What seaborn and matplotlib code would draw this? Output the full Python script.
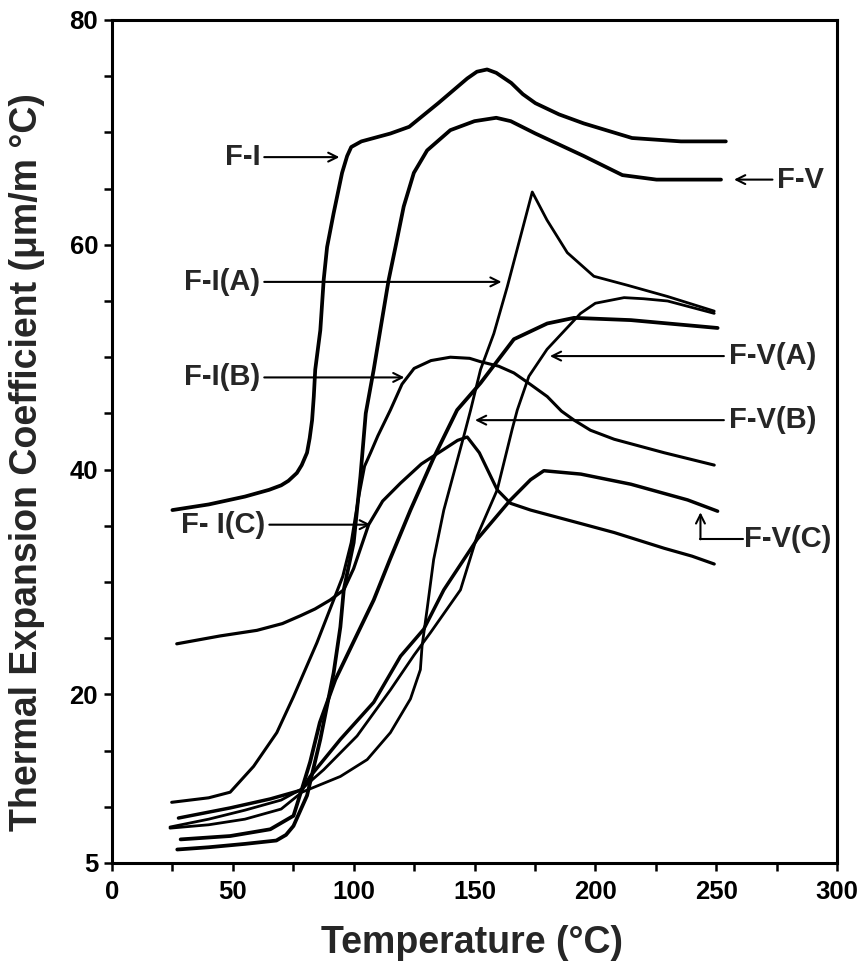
import numpy as np
import pandas as pd
import matplotlib
matplotlib.use("Agg")
import matplotlib.pyplot as plt
import seaborn as sns

# ---------------- data ----------------
FI_T = [25, 40, 55, 65, 70, 73, 76.5, 78.5, 80.7, 81.8, 82.8, 83.5, 84.1, 86.2, 87.6, 89, 91.7,
        95.2, 97.3, 99, 103.2, 115.2, 123, 135, 147, 151, 155.2, 159, 165.2, 170, 175.2, 185,
        195.2, 215.2, 235.4, 254]
FI_A = [36.4, 36.9, 37.6, 38.2, 38.6, 39.0, 39.7, 40.4, 41.5, 42.8, 44.4, 46.5, 48.9, 52.4, 56.9,
        59.8, 62.8, 66.4, 67.9, 68.7, 69.2, 69.9, 70.5, 72.6, 74.8, 75.4, 75.6, 75.3, 74.4, 73.4,
        72.6, 71.6, 70.8, 69.5, 69.2, 69.2]

FV_T = [27, 40, 55, 68, 72, 75.1, 80.7, 86.2, 91.7, 94.5, 95.9, 100, 102.8, 105, 108.3, 111, 114.5,
        117.3, 120.7, 124.9, 130.4, 140, 150, 159, 165, 175.2, 195.2, 211.2, 225.3, 252]
FV_A = [6.2, 6.4, 6.7, 7.0, 7.5, 8.3, 11.0, 16.0, 21.9, 26.0, 29.3, 33.5, 39.4, 45.0, 48.9, 52.4, 56.9,
        59.8, 63.4, 66.4, 68.4, 70.2, 71.0, 71.3, 71.0, 69.9, 67.9, 66.2, 65.8, 65.8]

FIA_T = [24, 40, 55, 70, 78.6, 94.5, 105.6, 115.2, 123.5, 127.6, 128.3, 130.4, 133.1, 137.3, 145.6,
         148.4, 152.5, 158, 163.6, 169, 173.9, 180, 188.4, 199.4, 213.3, 229.9, 249.2]
FIA_A = [8.1, 8.4, 8.9, 9.8, 11.3, 12.7, 14.2, 16.6, 19.6, 22.2, 24.3, 27.6, 32.0, 36.4, 43.0,
         45.3, 48.9, 52.1, 56.3, 60.7, 64.7, 62.2, 59.3, 57.2, 56.4, 55.4, 54.1]

FIB_T = [24.7, 40, 48.9, 58.6, 68.2, 75.1, 84.8, 91.7, 95.5, 99, 102, 104.5, 107, 110, 115.2, 120,
         125, 132, 140, 148, 152.5, 160, 166.3, 173, 180.1, 186, 191.2, 198, 207.8, 228.5, 249.2]
FIB_A = [10.4, 10.8, 11.3, 13.6, 16.6, 19.8, 24.6, 28.4, 30.5, 33.5, 37.5, 40.3, 41.5, 43.0, 45.3, 47.6,
         49.0, 49.7, 50.0, 49.9, 49.6, 49.2, 48.6, 47.6, 46.5, 45.2, 44.4, 43.5, 42.7, 41.5, 40.4]

FIC_T = [26.8, 44.7, 60, 70.5, 78, 84, 90.3, 95.9, 100, 106.2, 112, 119.4, 128, 137.3, 143, 147,
         152, 159.4, 164.9, 173.2, 180.1, 194, 207.8, 228.5, 240, 249.2]
FIC_A = [24.5, 25.2, 25.7, 26.3, 27.0, 27.6, 28.4, 29.3, 31.2, 35.1, 37.2, 38.8, 40.5, 41.8, 42.6, 42.9,
         41.5, 38.2, 37.0, 36.4, 36.0, 35.2, 34.4, 33.0, 32.3, 31.6]

FVA_T = [24, 40, 55, 70, 78.6, 87.6, 101.4, 115.2, 125, 131.8, 144.2, 151.1, 159.4, 165.6, 167.7,
         172.5, 180, 193.9, 200, 211.9, 220, 229.9, 249.2]
FVA_A = [8.2, 8.9, 9.7, 10.6, 11.6, 13.3, 16.3, 20.4, 23.5, 25.5, 29.3, 34.1, 38.2, 43.6, 45.3,
         48.3, 50.7, 53.9, 54.8, 55.3, 55.2, 55.0, 53.9]

FVB_T = [28.4, 48.9, 65.5, 75.1, 78.6, 82, 86, 92.4, 100, 108.3, 115, 123.5, 133, 142.8, 152.5,
         166.3, 180.1, 191.2, 214.7, 250.6]
FVB_A = [7.1, 7.4, 8.0, 9.2, 11.6, 14.0, 17.5, 21.3, 24.7, 28.4, 32.0, 36.4, 41.0, 45.3, 47.7,
         51.6, 53.0, 53.5, 53.3, 52.6]

FVC_T = [27.5, 48.9, 65.5, 78.6, 82, 94.5, 108.3, 119.4, 129, 137.3, 151.1, 164.9, 173.2, 178.7,
         194, 214.7, 238.2, 250.6]
FVC_A = [9.0, 9.9, 10.7, 11.5, 12.7, 16.0, 19.3, 23.4, 25.8, 29.3, 33.8, 37.3, 39.1, 39.9,
         39.6, 38.7, 37.3, 36.3]

SAMPLES = ["F-I", "F-V", "F-I(A)", "F-I(B)", "F-I(C)", "F-V(A)", "F-V(B)", "F-V(C)"]
SERIES = {
    "F-I": (FI_T, FI_A), "F-V": (FV_T, FV_A), "F-I(A)": (FIA_T, FIA_A),
    "F-I(B)": (FIB_T, FIB_A), "F-I(C)": (FIC_T, FIC_A), "F-V(A)": (FVA_T, FVA_A),
    "F-V(B)": (FVB_T, FVB_A), "F-V(C)": (FVC_T, FVC_A),
}

X_TICKS = list(range(0, 301, 25))
X_LABELS = [str(v) if v % 50 == 0 else "" for v in X_TICKS]
Y_TICKS = list(range(5, 81, 5))
Y_LABELS = [str(v) if v in (5, 20, 40, 60, 80) else "" for v in Y_TICKS]

# ---------------- style ----------------
sns.set_theme(style="ticks")
plt.rcParams["font.family"] = ["Liberation Sans", "DejaVu Sans"]
plt.rcParams["font.weight"] = "bold"

W, H = 859, 974
fig = plt.figure(figsize=(W / 100, H / 100), dpi=100)
ax = fig.add_axes([112 / W, 1 - 863 / H, (837 - 112) / W, (863 - 20) / H])

widths = {"F-I": 2.7, "F-V": 2.7, "F-I(A)": 2.0, "F-I(B)": 2.2, "F-I(C)": 2.3,
          "F-V(A)": 2.0, "F-V(B)": 2.7, "F-V(C)": 2.5}

for name in SAMPLES:
    t, a = SERIES[name]
    df = pd.DataFrame({"T": t, "CTE": a})
    sns.lineplot(data=df, x="T", y="CTE", ax=ax, color="black", sort=False,
                 estimator=None, linewidth=widths[name], solid_capstyle="round",
                 solid_joinstyle="round")

ax.set_xlim(0, 300)
ax.set_ylim(5, 80)
ax.set_xticks(X_TICKS)
ax.set_xticklabels(X_LABELS)
ax.set_yticks(Y_TICKS)
ax.set_yticklabels(Y_LABELS)
ax.set_xlabel("")
ax.set_ylabel("")
for s in ax.spines.values():
    s.set_linewidth(2.2)
    s.set_color("black")
ax.tick_params(axis="both", direction="out", length=6, width=1.8, colors="black",
               labelsize=18.5, pad=4)
ax.tick_params(axis="x", pad=6)
for lab in ax.get_xticklabels() + ax.get_yticklabels():
    lab.set_fontweight("bold")

# axis titles
fig.text(472 / W, 1 - 943 / H, "Temperature (\u00b0C)", ha="center", va="center",
         fontsize=27, fontweight="bold")
fig.text(27 / W, 1 - 462 / H, "Thermal Expansion Coefficient (\u03bcm/m \u00b0C)",
         ha="center", va="center", rotation=90, fontsize=27, fontweight="bold")

# curve labels with arrows
arrow_kw = dict(arrowstyle="->", color="black", lw=1.5, mutation_scale=16,
                shrinkA=0, shrinkB=0)
lab_kw = dict(fontsize=21, fontweight="bold", va="center")

left_labels = [("F-I", 63.0, 94.1, 67.8),
               ("F-I(A)", 63.0, 161.2, 56.7),
               ("F-I(B)", 63.0, 121.0, 48.2),
               ("F- I(C)", 65.1, 107.1, 35.1)]
for text, tail, tip, yv in left_labels:
    ax.annotate("", xy=(tip, yv), xytext=(tail, yv), arrowprops=arrow_kw)
    ax.text(tail - 1.5, yv, text, ha="right", **lab_kw)

right_labels = [("F-V", 273.3, 257.4, 65.8),
                ("F-V(A)", 253.2, 181.2, 50.1),
                ("F-V(B)", 253.2, 150.2, 44.4)]
for text, tail, tip, yv in right_labels:
    ax.annotate("", xy=(tip, yv), xytext=(tail, yv), arrowprops=arrow_kw)
    ax.text(tail + 2.0, yv, text, ha="left", **lab_kw)

# F-V(C): elbow arrow
ax.annotate("", xy=(243.5, 36.2), xytext=(243.5, 33.8), arrowprops=arrow_kw)
ax.plot([243.5, 261.3], [33.8, 33.8], color="black", lw=1.5)
ax.text(261.5, 33.8, "F-V(C)", ha="left", **lab_kw)

fig.savefig("out.png", dpi=100)
